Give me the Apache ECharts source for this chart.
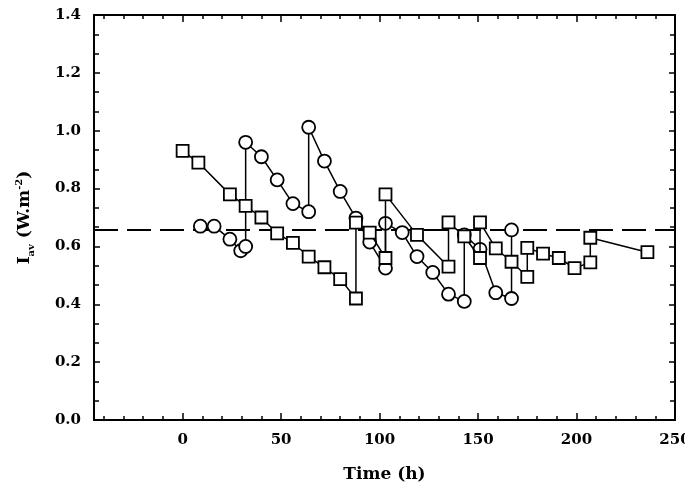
<!DOCTYPE html>
<html>
<head>
<meta charset="utf-8">
<script src="https://cdn.jsdelivr.net/npm/echarts@6/dist/echarts.min.js"></script>
<style>html,body{margin:0;padding:0;background:#fff}#c{width:685px;height:483px}</style>
</head>
<body>
<div id="c"></div>
<script>
// Tick values
var xMajorTicks = [0, 50, 100, 150, 200, 250];
var xMinorTicks = [-40, -30, -20, -10, 10, 20, 30, 40, 60, 70, 80, 90, 110, 120, 130, 140, 160, 170, 180, 190, 210, 220, 230, 240];
// Series: squares [time, Iav]
var squares = [
  [0, 0.93], [8, 0.89], [24, 0.78], [32, 0.74], [40, 0.70], [48, 0.645], [56, 0.612],
  [64, 0.565], [72, 0.528], [80, 0.487], [88, 0.42], [88, 0.682], [95, 0.648], [103, 0.56],
  [103, 0.78], [119, 0.64], [135, 0.53], [135, 0.683], [143, 0.635], [151, 0.56], [151, 0.683],
  [159, 0.593], [167, 0.547], [175, 0.495], [175, 0.595], [183, 0.575], [191, 0.56],
  [199, 0.525], [207, 0.545], [207, 0.63], [236, 0.58]
];
// Series: circles [time, Iav]
var circles = [
  [9, 0.67], [16, 0.67], [24, 0.625], [29.5, 0.585], [32, 0.60], [32, 0.96], [40, 0.91],
  [48, 0.83], [56, 0.748], [64, 0.72], [64, 1.012], [72, 0.895], [80, 0.79], [88, 0.698],
  [95, 0.615], [103, 0.525], [103, 0.68], [111.5, 0.648], [119, 0.565], [127, 0.51],
  [135, 0.435], [143, 0.41], [143, 0.64], [151, 0.59], [159, 0.44], [167, 0.42], [167, 0.657]
];
// Reference (dashed) level
var refLevel = [[-45, 0.657], [250, 0.657]];

var FONT = 'DejaVu Serif';
var chart = echarts.init(document.getElementById('c'));
function frameLine() { return {show: true, onZero: false, lineStyle: {color: '#000', width: 2}}; }
function xAx(pos, ticks, len, labels, line) {
  return {
    type: 'value', position: pos, min: -45, max: 250, gridIndex: 0,
    axisLine: line ? frameLine() : {show: false, onZero: false},
    axisTick: {show: true, inside: true, length: len, customValues: ticks, lineStyle: {color: '#000', width: 1.5}},
    axisLabel: labels ? {show: true, customValues: ticks, margin: 13, color: '#000', fontFamily: FONT, fontWeight: 'bold', fontSize: 15} : {show: false},
    splitLine: {show: false}
  };
}
var xAxes = [
  xAx('bottom', xMajorTicks, 7, true, true),
  xAx('bottom', xMinorTicks, 4, false, false),
  xAx('top', xMajorTicks, 7, false, true),
  xAx('top', xMinorTicks, 4, false, false)
];
xAxes[0].name = 'Time (h)';
xAxes[0].nameLocation = 'middle';
xAxes[0].nameGap = 46;
xAxes[0].nameTextStyle = {color: '#000', fontFamily: FONT, fontWeight: 'bold', fontSize: 17};

function yAx(pos, labels) {
  return {
    type: 'value', position: pos, min: 0, max: 1.4, interval: 0.2,
    axisLine: frameLine(),
    axisTick: {show: true, inside: true, length: 6, lineStyle: {color: '#000', width: 1.5}},
    minorTick: {show: true, splitNumber: 3, length: 5, lineStyle: {color: '#000', width: 1.5}},
    axisLabel: labels ? {show: true, margin: 13, color: '#000', fontFamily: FONT, fontWeight: 'bold', fontSize: 15,
      formatter: function (v) { return v.toFixed(1); }} : {show: false},
    splitLine: {show: false}, minorSplitLine: {show: false}
  };
}
var yAxes = [yAx('left', true), yAx('right', false)];
yAxes[0].name = '{b|I}{sub|av}{b| (W.m}{sup|-2}{b|)}';
yAxes[0].nameLocation = 'middle';
yAxes[0].nameGap = 58;
yAxes[0].nameRotate = 90;
yAxes[0].nameTextStyle = {
  color: '#000',
  rich: {
    b: {fontFamily: FONT, fontWeight: 'bold', fontSize: 17, lineHeight: 22, color: '#000'},
    sub: {fontFamily: FONT, fontWeight: 'bold', fontSize: 10, lineHeight: 10, verticalAlign: 'bottom', color: '#000'},
    sup: {fontFamily: FONT, fontWeight: 'bold', fontSize: 10, lineHeight: 10, verticalAlign: 'top', color: '#000'}
  }
};

var markerStyle = {color: '#fff', borderColor: '#000', borderWidth: 1.8};
chart.setOption({
  animation: false,
  backgroundColor: '#fff',
  grid: {left: 94, right: 10, top: 15, bottom: 63, containLabel: false, outerBoundsMode: 'none'},
  xAxis: xAxes,
  yAxis: yAxes,
  series: [
    {type: 'line', data: refLevel, xAxisIndex: 0, yAxisIndex: 0, symbol: 'none',
     lineStyle: {color: '#000', width: 2, type: [24, 9]}, z: 1},
    {type: 'line', data: squares, xAxisIndex: 0, yAxisIndex: 0, symbol: 'rect', symbolSize: 12,
     showSymbol: true, showAllSymbol: true,
     lineStyle: {color: '#000', width: 1.5}, itemStyle: markerStyle, z: 3},
    {type: 'line', data: circles, xAxisIndex: 0, yAxisIndex: 0, symbol: 'circle', symbolSize: 13,
     showSymbol: true, showAllSymbol: true,
     lineStyle: {color: '#000', width: 1.5}, itemStyle: markerStyle, z: 2}
  ]
});
</script>
</body>
</html>
